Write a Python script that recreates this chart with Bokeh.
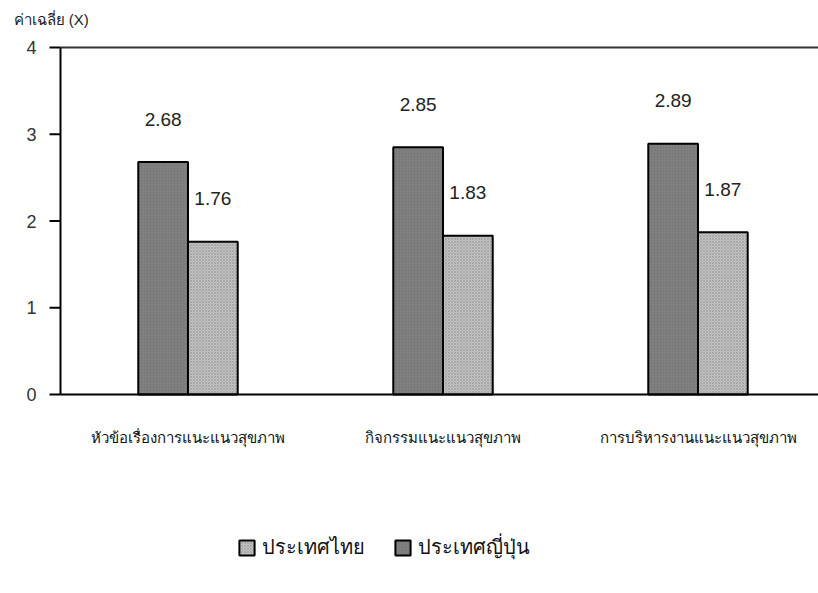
from bokeh.plotting import figure
from bokeh.models import (ColumnDataSource, Range1d, Legend, LegendItem, Label)
from bokeh.core.properties import value
from bokeh.embed import file_html
from bokeh.resources import INLINE

categories = ["หัวข้อเรื่องการแนะแนวสุขภาพ", "กิจกรรมแนะแนวสุขภาพ", "การบริหารงานแนะแนวสุขภาพ"]
japan = [2.68, 2.85, 2.89]
thai = [1.76, 1.83, 1.87]
series_names = ["ประเทศไทย", "ประเทศญี่ปุ่น"]
y_ticks = [0, 1, 2, 3, 4]
y_title = "ค่าเฉลี่ย (X)"

FONT = "Liberation Sans"
W, H = 818, 593
PX_X = 255.0      # pixels per category
PX_Y = 86.75      # pixels per value unit
LEFT, ZERO_Y = 60, 394

centers = [i + 0.5 for i in range(len(categories))]
bw = 0.195

x_range = Range1d(-LEFT / PX_X, (W - LEFT) / PX_X)
y_range = Range1d(-(H - ZERO_Y) / PX_Y, ZERO_Y / PX_Y)

p = figure(width=W, height=H, output_backend="svg", toolbar_location=None,
           x_range=x_range, y_range=y_range, min_border=0)
p.xaxis.visible = False
p.yaxis.visible = False
p.xgrid.visible = False
p.ygrid.visible = False
p.outline_line_color = None
p.background_fill_color = "white"
p.border_fill_color = "white"

src_j = ColumnDataSource(dict(x=[c - bw / 2 for c in centers], top=japan,
                              lab=[f"{v:.2f}" for v in japan]))
src_t = ColumnDataSource(dict(x=[c + bw / 2 for c in centers], top=thai,
                              lab=[f"{v:.2f}" for v in thai]))

rj = p.vbar(x="x", top="top", width=bw, bottom=0, source=src_j,
            fill_color="#7a7a7a", line_color="black", line_width=2,
            hatch_pattern="dot", hatch_color="#8c8c8c", hatch_scale=3, hatch_weight=1)
rt = p.vbar(x="x", top="top", width=bw, bottom=0, source=src_t,
            fill_color="#c4c4c4", line_color="black", line_width=2,
            hatch_pattern="diagonal_cross", hatch_color="#a8a8a8", hatch_scale=3,
            hatch_weight=1)

for src in (src_j, src_t):
    p.text(x="x", y="top", text="lab", source=src, y_offset=-43,
           text_align="center", text_baseline="middle",
           text_font=value(FONT), text_font_size="19px", text_color="#222222")

# top line and baseline (start at the y axis)
p.segment(x0=[0], y0=[max(y_ticks)], x1=[x_range.end], y1=[max(y_ticks)],
          line_color="#333333", line_width=2)
p.segment(x0=[0], y0=[0], x1=[x_range.end], y1=[0], line_color="black", line_width=2)

# y axis
p.segment(x0=[0], y0=[min(y_ticks)], x1=[0], y1=[max(y_ticks)], line_color="black", line_width=2)
tick_len = 11 / PX_X
p.segment(x0=[-tick_len] * len(y_ticks), y0=y_ticks, x1=[0] * len(y_ticks), y1=y_ticks,
          line_color="black", line_width=2)
p.text(x=[0] * len(y_ticks), y=y_ticks, text=[str(t) for t in y_ticks], x_offset=-24,
       text_align="right", text_baseline="middle", text_font=value(FONT),
       text_font_size="18px", text_color="#333333")

# category labels
p.text(x=centers, y=[0] * len(centers), text=categories, y_offset=43,
       text_align="center", text_baseline="middle", text_font=value(FONT),
       text_font_size="15px", text_color="#111111")

p.add_layout(Label(x=-LEFT / PX_X, y=max(y_ticks), x_offset=13, y_offset=28, text=y_title,
                   text_font=FONT, text_font_size="15px", text_color="#222222",
                   text_baseline="middle"))

legend = Legend(items=[LegendItem(label=series_names[0], renderers=[rt]),
                       LegendItem(label=series_names[1], renderers=[rj])],
                orientation="horizontal", location=(237, 30),
                glyph_width=19, glyph_height=19, label_text_font=FONT,
                label_text_font_size="20px", label_text_color="#111111",
                border_line_color=None, background_fill_alpha=0,
                spacing=28, label_standoff=6, padding=0, margin=0)
p.add_layout(legend, "center")

open("out.html", "w").write(file_html(p, INLINE))
